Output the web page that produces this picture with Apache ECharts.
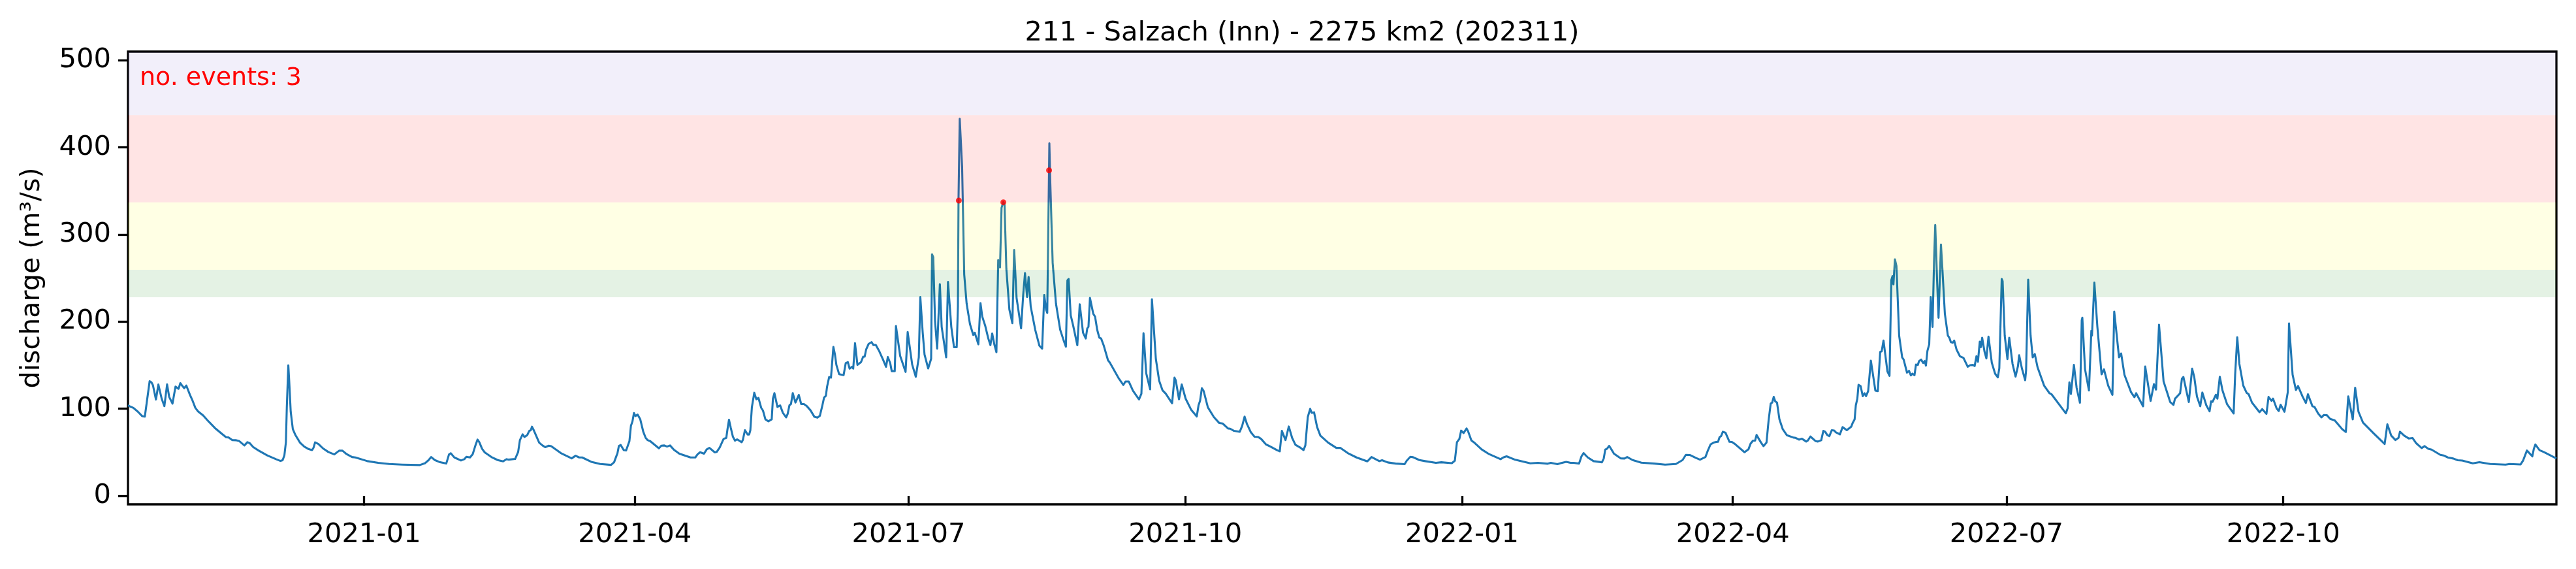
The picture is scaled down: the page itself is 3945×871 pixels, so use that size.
<!DOCTYPE html>
<html><head><meta charset="utf-8">
<script src="https://cdn.jsdelivr.net/npm/echarts@6/dist/echarts.min.js"></script>
<style>html,body{margin:0;padding:0;background:#fff}#c{width:3945px;height:871px}</style>
</head><body><div id="c"></div>
<script>
const titleText = '211 - Salzach (Inn) - 2275 km2 (202311)';
const eventText = 'no. events: 3';
const yAxisTitle = 'discharge (m³/s)';
const axisStart = '2020-10-14T12:00:00Z';
const axisLengthDays = 807.3;
const xTickDates = ['2021-01-01','2021-04-01','2021-07-01','2021-10-01','2022-01-01','2022-04-01','2022-07-01','2022-10-01'];
const yTicks = [0,100,200,300,400,500];
const yMin = -9.7, yMax = 510;
const bandEdges = [228,259.5,337,437,510];
const bandColors = ['rgb(0,128,0)','rgb(255,255,0)','rgb(255,0,0)','rgb(135,105,205)'];
// [days since axisStart, discharge m3/s]
const dischargeReadings = [
[0,104],[.7,102.6],[1.8,101],[3.3,96.6],[4.7,91.6],[5.6,91],[7.2,131.6],[7.8,130.3],[8.3,127],[9.3,110.6],[9.6,111],[10.1,127.8],[10.5,126.6],[11.2,111.6],[12.1,103],[12.4,103.6],[13,128],[13.7,113.6],[14.8,105.9],[15.8,125.4],[16.1,126],[16.8,122.9],[17.4,129.4],[17.9,127],[18.7,123.6],[19.4,126.6],[20.6,116],[21.5,109],[22.4,101],[23.3,97],[25,92.3],[26.8,85.4],[28.9,77.9],[30.8,72.4],[32.6,67.4],[33.4,67.1],[34.7,64],[35.8,63.9],[36.9,63.1],[38.7,57.9],[39.7,61.6],[40.5,60.4],[41.6,56.1],[43.4,52.1],[46.3,46.4],[49.2,42.1],[50.7,40.1],[51.4,40.9],[52,46.6],[52.5,61.6],[52.8,101.6],[53.3,149.9],[53.6,131.6],[54.1,96.6],[54.8,76.6],[55.7,69.6],[57.2,61.1],[58.6,56.6],[60.1,53.6],[61.2,52.6],[61.7,55.4],[62.2,61.4],[63.3,59.6],[64.8,54.6],[66.6,50.4],[68.6,47.6],[70.2,51.9],[71.3,51.9],[72.7,47.9],[74.5,44.6],[75.6,44.1],[79.6,39.9],[83.2,37.9],[86.8,36.6],[91.2,35.9],[97,35.4],[98.8,37.6],[99.9,40.9],[100.8,44.6],[102,41.1],[103.5,38.9],[105.8,37.1],[106.2,41.6],[106.7,47.4],[107.3,48.9],[108.5,44.1],[110.7,40.6],[111.8,42.1],[112.5,44.9],
[113.7,44.1],[114.6,47.9],[115.5,57.9],[116.2,64.6],[116.8,61.6],[117.7,54.1],[118.6,49.9],[120.8,44.6],[122.9,41.1],[124.7,39.6],[125.8,42.1],[126.5,41.6],[128.7,42.4],[129.7,50.4],[130.3,64.1],[131.2,70.6],[131.8,67.6],[132.7,69.6],[133.4,74.6],[133.9,75.4],[134.3,79.4],[134.9,75.4],[136.7,61.1],[137.8,57.9],[138.7,55.9],[139.9,57.6],[140.7,57.1],[143.9,49.1],[147.5,43.1],[148.8,46.1],[150,44.1],[151,44.1],[154,39.1],[157,36.6],[160.6,35.6],[161.6,38.6],[162.4,46.1],[162.7,48.6],[163.2,57.4],[163.8,58.4],[164.8,52.6],[165.6,52.1],[166.7,62.9],[167.2,80.4],[167.7,85.4],[168.2,95.1],[168.7,91.6],[169.4,93.4],[170.3,87.9],[171.3,73.6],[172.1,66.6],[172.7,64.1],[173.6,62.9],[176.5,54.6],[177.3,57.6],[178.3,57.9],[179.2,56.6],[180.2,57.9],[181.5,52.9],[183.3,48.4],[187,44.1],[188.6,44.1],[189.4,47.9],[190.2,50.1],[191.5,48.4],[192.4,53.4],[193.3,55.1],[195.1,49.9],[195.7,50.4],[196.7,55.4],[198,65.4],[198.9,66.6],[199.3,76.6],[199.8,87.4],[200.4,77.9],[201.1,67.9],[201.8,63.4],[202.5,64.9],[204,61.6],[204.4,64.1],[205.1,75.4],[206,70.4],[206.5,70.4],[206.9,75.4],[207.4,101.6],[208.2,118.4],[208.9,110.9],[209.6,112.4],[210.5,101.1],[211.1,97.9],[211.9,87.9],[212.9,85.6],[214,87.9],[214.4,111.6],[214.9,117.9],[215.9,102.1],[216.8,103.9],[217.7,95.4],[218.8,90.1],[219.3,94.1],[219.9,104.1],[220.4,105.4],[221,117.9],[221.9,107.1],[223,115.9],[223.8,105.4],[224.7,105.4],[225.1,106.6],[225.7,102.9],
[226.9,98.2],[228.2,90.7],[229.2,89.8],[230,91.9],[230.8,103.2],[231.4,112.8],[232,114.8],[232.4,125.3],[233.1,136.5],[233.7,135.7],[234.5,171],[235,162.8],[235.5,150.3],[236.4,139.8],[237.9,138.6],[238.6,152.3],[239.3,153.6],[239.9,146.1],[240.7,148.2],[241.1,146.1],[241.7,175.3],[242.5,150.3],[243.7,153.6],[244.4,159.8],[244.9,159.8],[245.4,168.2],[246.2,174.4],[246.6,173.2],[247.2,176.5],[247.8,173.2],[248.6,173.2],[249.8,165.7],[250.2,164.8],[251,156.5],[252,148.2],[252.6,159.4],[253.4,152.3],[253.9,143.2],[254.9,143.2],
[255.3,195],[256.7,160.7],[258.5,142.3],[259.2,188],[260.7,150.7],[261.9,136.7],[262.9,159],[263.4,228.3],[264.2,187.3],[264.8,162.3],[266,146.3],[267,157.3],[267.3,277.3],[267.7,274],[268.3,200.7],[269,169],[269.9,243],[270.5,194],[272,159],[272.6,245.7],[273.7,194],[274.6,170.7],[275.5,170.7],[275.9,217.3],[276.1,340.7],[276.5,433],[276.8,433],[277.3,377.3],[278,254],[278.8,220.7],[279.9,197.3],[281,184.7],[281.5,187.3],[282.7,174],[283.4,221.3],[284,205.7],[285,195],[286,180.7],[286.7,173],[287.3,186.3],[288,174],[288.7,165],[289.3,270.7],[289.9,262.3],[290.4,330.7],[291,337.3],[291.4,334],[292,260.7],[293,214],[294,198.3],[294.6,282.3],[295.4,227.3],[296.9,192.3],[297.6,230.7],[298.2,255.7],[298.5,255.7],[298.9,228.3],[299.4,251.3],[300.1,217.3],[301.6,190.7],[303,172.3],[303.9,169],[304.6,230.7],[305.2,214],[305.6,210],[305.9,294],[306.3,404.7],[306.6,360.7],[307.4,267.3],[308.5,220.7],[309.9,190.7],[311,179],[311.8,171.3],[312.3,247.3],[312.7,249],[313.4,207.3],[314.2,195.7],[315.6,173],[316.4,220],[317.5,187.3],[318.4,180.7],[318.9,192.3],[319.3,194],[319.8,227.3],[320.2,228.3],[320.9,209],[321.5,205.7],[322.2,190.7],[322.9,181.7],[323.5,180.7],[324.4,172.3],[325.8,155.7],[326.4,153],[329.4,134.7],[330.9,127.3],[331.6,131.3],[332.7,131.3],[334.1,120.7],[336.1,110.7],[336.9,117.3],[337.6,186.7],[338.5,140.7],[339.8,122.3],[340.4,225.7],[340.8,225.7],[341.7,157.3],[342.8,132.3],[343.9,121.3],[345,117.3],[347.1,106.3],[347.9,135.7],
[348.3,132.9],[349.4,110.9],[350.3,127.9],[351.6,111.6],[353.4,99.1],[355.3,91.1],[355.9,104.1],[356.4,109.1],[357,123.6],[357.6,120.4],[359,101.6],[361,90.4],[362.8,83.6],[363.9,83.1],[365.7,77.4],[366.4,77.1],[367.7,74.6],[369.6,73.6],[370.4,80.4],[371.2,90.9],[372,82.4],[373.3,72.9],[374.5,67.9],[375.7,67.6],[376.7,65.4],[378.3,59.1],[379.8,56.6],[382,52.4],[382.9,51.1],[383.6,74.6],[384,74.6],[384.8,64.1],[385.2,64.6],[385.9,79.6],[387,66.6],[388.1,58.6],[389.5,55.9],[390.8,52.6],[391.4,57.9],[392.2,90.4],[393,99.9],[393.5,95.4],[394.3,95.9],[395.3,79.1],[396.4,69.1],[399,61.1],[401.7,55.1],[403,55.1],[405.5,49.1],[408.4,44.1],[412,39.6],[413.4,44.6],[416,39.9],[416.9,40.9],[418.8,38.4],[421.4,37.1],[424.4,36.4],[425.1,40.4],[426.3,44.9],[427.2,44.4],[429.3,41.1],[431.2,39.9],[434.8,37.9],[436.6,38.6],[440.1,37.6],[441.1,40.4],[441.8,61.6],[442.6,65.4],[443.2,74.9],[444,72.1],[445,77.4],[445.5,74.1],[446.6,63.6],[447.4,61.6],[450,53.4],[452.5,47.9],[456.3,42.1],[457.2,44.1],[458.3,45.4],[461.2,41.4],
[466.2,37.4],[468.7,37.9],[472,36.9],[473,37.9],[475.2,36.4],[476.3,37.6],[478.1,39.1],[479.6,37.9],[480.6,37.9],[482.4,37.1],[483.2,45.4],[483.9,49.1],[485.3,44.1],[487.2,39.9],[490,38.6],[490.6,42.9],[491.1,53.1],[491.7,54.1],[492.4,57.4],[493.1,53.6],[494,48.4],[496.2,43.1],[497.5,42.9],[498.4,44.6],[500.2,41.1],[503.1,38.1],[507.4,37.1],[511,35.9],[514.6,36.6],[516.8,41.1],[517.9,47.1],[519.3,46.9],[521.2,43.6],[522.6,41.6],[524.4,44.6],[525.1,51.1],[526.1,59.1],[527.1,61.1],[527.5,60.1],[528,61.9],[528.6,62.1],[529.1,67.4],[529.6,68.6],[530.2,73.6],[530.6,72.4],[531.1,72.4],[532.4,62.1],[533.2,61.9],[534.2,59.6],[537.4,50.1],[538.7,53.4],[539.4,59.9],[540.2,63.4],[540.9,63.4],[541.4,69.9],[542.9,61.1],[543.7,57.1],[544.7,61.1],[545.4,86.6],[546.1,105.9],[546.6,107.1],[547.1,113.6],[547.6,108.6],[548.2,107.1],[549,87.9],[550.1,76.6],[551.5,69.6],[553.7,66.9],[554.4,66.6],[555.5,64.6],[556.5,65.6],[557.9,62.4],[558.4,63.4],[559.3,68.1],[561,62.9],[561.8,62.4],[562.9,63.9],[563.6,74.6],[564.2,73.6],[564.9,69.9],[565.6,68.6],[566.4,75.4],[567.2,75.1],[567.7,73.1],[569.1,70.6],[570,78.9],[571.4,75.4],[572.9,79.6],[573.4,84.1],[573.8,85.4],
[574,87.8],[574.4,104],[574.9,111.5],[575.3,127.5],[576,126],[576.7,114.5],[577.3,117.8],[577.8,114.5],[578.5,120.3],[578.8,120.8],[579.4,155.3],[580,141.5],[580.9,120.8],[581.7,120.3],[582.5,165.3],[583,166],[583.6,178.3],[584.9,142.8],[585.6,137.8],[586.2,247.8],[586.6,252.3],[586.9,242.8],[587.4,271.5],[587.9,264],[588.8,184],[589.8,159],[590.3,156.5],[591.4,141.5],[592.1,143.5],[592.7,138.3],[593.2,140.3],[593.9,138.5],[594.4,150.8],[595,150.3],[595.4,154.5],[596.1,156.5],[596.8,152.5],[597.3,154.8],[597.7,149.5],[598.2,166.5],[598.8,174],[599.3,228.3],[599.9,194],[600.4,269],[600.8,311],[601.4,249],[601.9,204.5],[602.7,288.5],[603.2,259],[604,209],[605,184],[605.5,181.5],[606,176.5],[606.6,175.8],[607.1,178.3],[607.9,167.8],[609,160.3],[610.2,158.3],[611.6,148.3],[612.4,150],[613.4,150.3],[613.9,149],[614.5,160.3],[615,154],[615.6,177],[616,170.8],[616.4,181.5],[617.2,165.3],[617.8,157.8],[618.5,182.8],[619.6,152.8],[620.7,140.3],[621.6,136],[622.1,146.5],[622.9,249],[623.2,246.5],[623.9,184],[624.8,157],[625.4,181.5],[626.5,151.5],[627.5,137],[628.3,149],[628.7,161.5],[629.6,146.5],[630.7,132.8],[631,144],[631.7,248.3],[632.5,184],[633.2,159],[633.9,162.8],[634.8,147.8],[637,126.5],[638.8,117.8],[639.5,116.5],[644.2,94.8],[644.8,100.3],[645.4,130.3],[645.9,117],[646.9,150.3],[647.8,124],[648.9,107],[649.5,201.5],[649.7,204.5],[650.6,145.3],[651.9,121],[652.7,189.5],[652.9,184],[653.7,244.8],[654.7,194],[656.1,139.5],[656.9,145.3],[658.3,126.5],[659.7,116],[660.3,211.5],[660.8,195.3],[661.2,195.3],[661.9,159],[662.6,163.5],[663.7,139],[665.9,119],[667,113.3],[667.6,117.8],[669.9,102.8],[670.6,148.5],[672.4,109],[673.5,128.3],[674.2,122],[675.2,196.5],[675.5,196.5],[676.7,131.5],[678.9,107.8],[680,104.5],[680.5,111.5],[682.2,117.8],[682.8,134.5],[683.3,136.5],[685.1,107.8],[686.2,146],
[686.9,136.6],[687.8,114.1],[688.9,102.9],[689.6,118.6],[690.9,104.1],[692,97.1],[692.5,108.6],[693,107.9],[694.1,116.1],[694.6,111.6],[695.4,136.6],[696.3,120.9],[697.8,105.4],[700,94.6],[700.5,139.1],[701.2,182.1],[701.9,151.6],[703.2,126.6],[704.3,118.4],[705,116.6],[706.1,107.1],[708.6,96.1],[709.5,99.6],[710.9,94.1],[711.6,113.6],[712.6,109.1],[713.1,111.6],[714.3,100.4],[715,97.4],[715.6,104.6],[716.9,96.6],[718,119.1],[718.4,197.9],[718.7,197.9],[719.6,139.1],[720.7,121.6],[721.4,126.1],[722.9,114.1],[724,106.6],[724.7,116.6],[726.2,102.9],[726.9,102.1],[728.1,94.6],[729.2,90.1],[730,92.9],[731,92.6],[732.1,88.4],[733.6,86.6],[736.1,76.6],[737.3,73.4],[738.1,114.1],[739.6,87.9],[740.4,124.1],[741.5,96.6],[743,84.1],[746.6,71.6],[750.2,59.6],[751.1,82.1],[752.4,69.1],[753.8,64.1],[754.8,66.6],[755.3,73.6],[756.7,69.1],[758.2,65.9],[759.5,66.4],[760.7,60.4],[762.5,54.9],[763.5,57.1],[764.7,54.1],[765.8,53.1],[768.7,47.1],[769.8,46.4],[771.2,44.1],[773,42.9],[774.5,40.9],[776,40.6],[779.5,37.4],[781.7,38.6],[785.3,36.6],[790.4,35.9],[791.8,36.6],[795.4,36.1],[796.2,40.4],[797.5,52.1],[799.3,45.4],[799.8,54.1],[800.3,59],[801.7,52.5],[803.2,50.2],[806.8,43.8],[807.3,43]
];
const eventReadings = [[276.2,339],[291,337],[306.2,373.7]];

const DAY = 86400000;
const t0 = Date.parse(axisStart);
const toTime = d => t0 + d * DAY;
const lineData = dischargeReadings.map(p => [toTime(p[0]), p[1]]);
const eventData = eventReadings.map(p => [toTime(p[0]), p[1]]);
const xTicks = xTickDates.map(s => Date.parse(s + 'T00:00:00Z'));
const bands = bandColors.map((c, i) => [
  {yAxis: bandEdges[i], itemStyle: {color: c, opacity: 0.105}},
  {yAxis: bandEdges[i + 1]}
]);
const font = '"DejaVu Sans"';
const chart = echarts.init(document.getElementById('c'), null, {renderer: 'canvas'});
chart.setOption({
  animation: false,
  backgroundColor: '#fff',
  textStyle: {fontFamily: font},
  title: {
    text: titleText, left: 1989, top: 25, textAlign: 'center',
    textStyle: {fontFamily: font, fontSize: 41.67, fontWeight: 'normal', color: '#000'}
  },
  grid: {left: 196, right: 30, top: 79, bottom: 99, show: true, borderColor: '#000', borderWidth: 3.3, backgroundColor: 'transparent'},
  xAxis: {
    type: 'value', min: toTime(0), max: toTime(axisLengthDays), scale: true,
    axisLine: {show: false}, splitLine: {show: false}, minorTick: {show: false},
    axisTick: {show: true, length: 15, lineStyle: {color: '#000', width: 3.3}, customValues: xTicks},
    axisLabel: {
      show: true, fontFamily: font, fontSize: 41.67, color: '#000', margin: 26, hideOverlap: false,
      customValues: xTicks,
      formatter: v => { const d = new Date(v); return d.getUTCFullYear() + '-' + String(d.getUTCMonth() + 1).padStart(2, '0'); }
    }
  },
  yAxis: {
    type: 'value', min: yMin, max: yMax,
    name: yAxisTitle, nameLocation: 'middle', nameRotate: 90, nameGap: 126,
    nameTextStyle: {fontFamily: font, fontSize: 41.2, color: '#000'},
    axisLine: {show: false}, splitLine: {show: false},
    axisTick: {show: true, length: 15, lineStyle: {color: '#000', width: 3.3}, customValues: yTicks},
    axisLabel: {show: true, fontFamily: font, fontSize: 41.67, color: '#000', margin: 26, padding: [5, 0, 0, 0], customValues: yTicks}
  },
  series: [
    {type: 'line', name: 'discharge', data: lineData, showSymbol: false, symbol: 'none', z: 2,
     lineStyle: {color: '#1f77b4', width: 3.1, join: 'round'}, silent: true},
    {type: 'line', name: 'bands', data: [], z: 3, silent: true,
     markArea: {silent: true, z: 3, data: bands}},
    {type: 'scatter', name: 'events', data: eventData, symbol: 'circle', symbolSize: 9, z: 4,
     itemStyle: {color: '#ff0000'}, silent: true}
  ],
  graphic: [{
    type: 'text', left: 214, top: 101, z: 10,
    style: {text: eventText, fontFamily: font, fontSize: 38, fill: '#ff0000'}
  }]
});
</script></body></html>
